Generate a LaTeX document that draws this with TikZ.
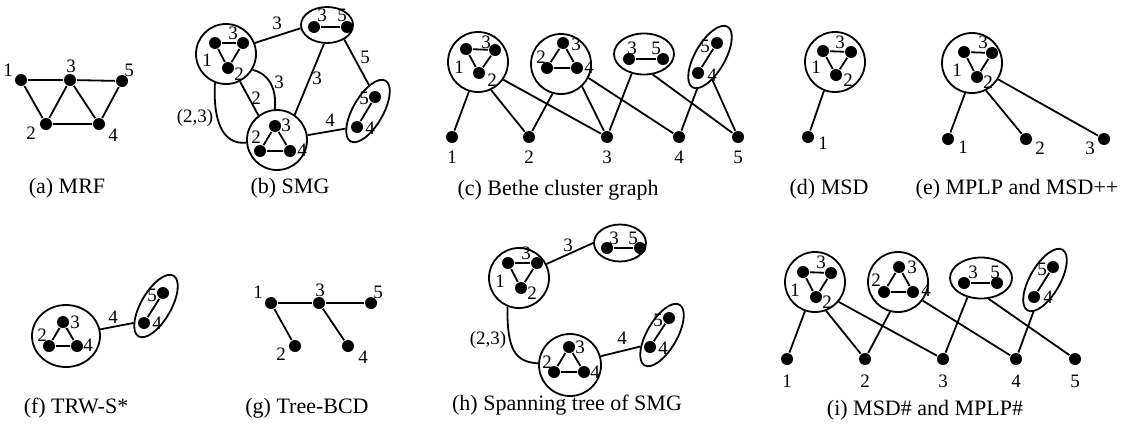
\documentclass[tikz,border=0pt]{standalone}
\usepackage{fontspec}
\setmainfont{Liberation Serif}
\usetikzlibrary{shapes.geometric}
\tikzset{vtx/.style={circle, fill=black, inner sep=0pt, minimum size=6pt},
  clus/.style={circle, draw, inner sep=0pt, minimum size=30pt},
  pair/.style={ellipse, draw, inner sep=0pt, minimum width=30pt, minimum height=20.5pt},
  tilt/.style={ellipse, draw, inner sep=0pt, minimum width=15pt, minimum height=35pt, rotate=-30},
  num/.style={inner sep=0pt, font=\fontsize{9.5}{10}\selectfont},
  capt/.style={inner sep=0pt, font=\fontsize{11}{12}\selectfont}}

\begin{document}
\begin{tikzpicture}[x=0.5pt, y=-0.5pt, line width=0.9pt]
  \useasboundingbox (0,0) rectangle (1127,428);
  % (a)
  \begin{scope}
   \node[vtx] (a1) at ( 21, 80) {};
   \node[vtx] (a3) at ( 70, 80) {};
   \node[vtx] (a5) at (122, 81) {};
   \node[vtx] (a2) at ( 46,124) {};
   \node[vtx] (a4) at ( 99,124) {};
   \draw (a1) -- (a3) -- (a5) -- (a4) -- (a2) -- (a1);
   \draw (a2) -- (a3) -- (a4);
   \node[num] (aL1) at (  8, 70) {1};
   \node[num] (aL3) at ( 71, 66) {3};
   \node[num] (aL5) at (129, 70) {5};
   \node[num] (aL2) at ( 31,133) {2};
   \node[num] (aL4) at (113,135) {4};
   \node[capt] (aC) at (67,188) {(a) MRF};
  \end{scope}
  % (b)
  \begin{scope}
   \node[clus] (bA) at (226, 54) {};
   \node[vtx] (bA1) at (215, 43) {};
   \node[vtx] (bA3) at (243, 43) {};
   \node[vtx] (bA2) at (228, 68) {};
   \draw (bA1) -- (bA3) -- (bA2) -- (bA1);
   \node[num] (bAL3) at (233, 33) {3};
   \node[num] (bAL1) at (207, 60) {1};
   \node[num] (bAL2) at (239, 74) {2};
   \node[pair, minimum width=26pt, minimum height=18pt] (bP) at (327, 25) {};
   \node[vtx] (bP3) at (314, 27) {};
   \node[vtx] (bP5) at (347, 27) {};
   \draw (bP3) -- (bP5);
   \node[num] (bPL3) at (322, 15) {3};
   \node[num] (bPL5) at (342, 15) {5};
   \node[tilt] (bQ) at (368,111) {};
   \node[vtx] (bQ5) at (375, 97) {};
   \node[vtx] (bQ4) at (357,127) {};
   \draw (bQ5) -- (bQ4);
   \node[num] (bQL5) at (364, 98) {5};
   \node[num] (bQL4) at (370,128) {4};
   \node[clus] (bB) at (277,140) {};
   \node[vtx] (bB3) at (275,126) {};
   \node[vtx] (bB2) at (260,151) {};
   \node[vtx] (bB4) at (290,151) {};
   \draw (bB3) -- (bB2) -- (bB4) -- (bB3);
   \node[num] (bBL3) at (286,125) {3};
   \node[num] (bBL2) at (256,137) {2};
   \node[num] (bBL4) at (302,150) {4};
   \draw (bA.21) -- (bP.187);
   \draw (bP.261) -- (bB.55);
   \draw (bP.320) -- (bQ.118);
   \draw (bB.9) -- (bQ.248);
   \draw (bA.297) -- (bB.127);
   \draw (bA.329) .. controls (268,73) and (277,88) .. (bB.94);
   \draw (bA.249) .. controls (213,120) and (222,145) .. (bB.185);
   \node[num] (bE1) at (277, 23) {3};
   \node[num] (bE2) at (317, 78) {3};
   \node[num] (bE3) at (365, 57) {5};
   \node[num] (bE4) at (330,120) {4};
   \node[num] (bE5) at (256, 98) {2};
   \node[num] (bE6) at (279, 82) {3};
   \node[num] (bE7) at (195,118) {(2,3)};
   \node[capt] (bC) at (290,188) {(b) SMG};
  \end{scope}
  % (c)
  \begin{scope}
   \node[clus] (cA) at (478, 62) {};
   \node[vtx] (cA1) at (466, 49) {};
   \node[vtx] (cA3) at (495, 50) {};
   \node[vtx] (cA2) at (479, 73) {};
   \draw (cA1) -- (cA3) -- (cA2) -- (cA1);
   \node[num] (cAL3) at (486, 42) {3};
   \node[num] (cAL1) at (459, 67) {1};
   \node[num] (cAL2) at (492, 80) {2};
   \node[clus] (cB) at (561, 64) {};
   \node[vtx] (cB3) at (563, 43) {};
   \node[vtx] (cB2) at (547, 68) {};
   \node[vtx] (cB4) at (577, 68) {};
   \draw (cB3) -- (cB2) -- (cB4) -- (cB3);
   \node[num] (cBL3) at (576, 44) {3};
   \node[num] (cBL2) at (541, 57) {2};
   \node[num] (cBL4) at (589, 67) {4};
   \node[pair] (cP) at (644, 54) {};
   \node[vtx] (cP3) at (629, 59) {};
   \node[vtx] (cP5) at (663, 59) {};
   \draw (cP3) -- (cP5);
   \node[num] (cPL3) at (632, 48) {3};
   \node[num] (cPL5) at (656, 48) {5};
   \node[tilt] (cQ) at (710, 57) {};
   \node[vtx] (cQ5) at (717, 43) {};
   \node[vtx] (cQ4) at (698, 73) {};
   \draw (cQ5) -- (cQ4);
   \node[num] (cQL5) at (705, 46) {5};
   \node[num] (cQL4) at (712, 75) {4};
   \node[vtx] (c1) at (452,137) {};
   \node[vtx] (c2) at (529,137) {};
   \node[vtx] (c3) at (607,137) {};
   \node[vtx] (c4) at (679,137) {};
   \node[vtx] (c5) at (738,137) {};
   \node[num] (cL1) at (452,157) {1};
   \node[num] (cL2) at (529,157) {2};
   \node[num] (cL3) at (607,157) {3};
   \node[num] (cL4) at (679,157) {4};
   \node[num] (cL5) at (738,157) {5};
   \draw (cA.253) -- (c1);
   \draw (cA.295) -- (c2);
   \draw (cA.325) -- (c3);
   \draw (cB.254) -- (c2);
   \draw (cB.313) -- (c3);
   \draw (cB.333) -- (c4);
   \draw (cP.238) -- (c3);
   \draw (cP.293) -- (c5);
   \draw (cQ.278) -- (c4);
   \draw (cQ.306) -- (c5);
   \node[capt] (cC) at (558,190) {(c) Bethe cluster graph};
  \end{scope}
  % (d)
  \begin{scope}
   \node[clus] (dA) at (835, 62) {};
   \node[vtx] (dA1) at (823, 51) {};
   \node[vtx] (dA3) at (851, 52) {};
   \node[vtx] (dA2) at (836, 75) {};
   \draw (dA1) -- (dA3) -- (dA2) -- (dA1);
   \node[num] (dAL3) at (840, 42) {3};
   \node[num] (dAL1) at (816, 67) {1};
   \node[num] (dAL2) at (848, 80) {2};
   \node[vtx] (d1) at (808,137) {};
   \node[num] (dL1) at (823,143) {1};
   \draw (dA.249) -- (d1);
   \node[capt] (dC) at (829,189) {(d) MSD};
  \end{scope}
  % (e)
  \begin{scope}
   \node[clus] (eA) at (972, 63) {};
   \node[vtx] (eA1) at (964, 52) {};
   \node[vtx] (eA3) at (992, 53) {};
   \node[vtx] (eA2) at (977, 77) {};
   \draw (eA1) -- (eA3) -- (eA2) -- (eA1);
   \node[num] (eAL3) at (983, 42) {3};
   \node[num] (eAL1) at (957, 70) {1};
   \node[num] (eAL2) at (988, 82) {2};
   \node[vtx] (e1) at ( 948,139) {};
   \node[vtx] (e2) at (1026,139) {};
   \node[vtx] (e3) at (1104,139) {};
   \node[num] (eL1) at ( 963,147) {1};
   \node[num] (eL2) at (1040,148) {2};
   \node[num] (eL3) at (1090,148) {3};
   \draw (eA.257) -- (e1);
   \draw (eA.297) -- (e2);
   \draw (eA.328) -- (e3);
   \node[capt] (eC) at (1017,189) {(e) MPLP and MSD++};
  \end{scope}
  % (f)
  \begin{scope}
   \node[pair, minimum width=34pt, minimum height=31pt] (fB) at (66,336) {};
   \node[vtx] (fB3) at (63,322) {};
   \node[vtx] (fB2) at (49,346) {};
   \node[vtx] (fB4) at (77,346) {};
   \draw (fB3) -- (fB2) -- (fB4) -- (fB3);
   \node[num] (fBL3) at (75,322) {3};
   \node[num] (fBL2) at (42,335) {2};
   \node[num] (fBL4) at (88,345) {4};
   \node[tilt] (fQ) at (156,306) {};
   \node[vtx] (fQ5) at (163,293) {};
   \node[vtx] (fQ4) at (144,323) {};
   \draw (fQ5) -- (fQ4);
   \node[num] (fQL5) at (152,295) {5};
   \node[num] (fQL4) at (157,323) {4};
   \draw (fB.11) -- (fQ.247);
   \node[num] (fE1) at (113,317) {4};
   \node[capt] (fC) at (76,408) {(f) TRW-S*};
  \end{scope}
  % (g)
  \begin{scope}
   \node[vtx] (g1) at (271,303) {};
   \node[vtx] (g3) at (319,303) {};
   \node[vtx] (g5) at (371,303) {};
   \node[vtx] (g2) at (295,346) {};
   \node[vtx] (g4) at (348,346) {};
   \draw (g1) -- (g3) -- (g5);
   \draw (g1) -- (g2);
   \draw (g3) -- (g4);
   \node[num] (gL1) at (258,292) {1};
   \node[num] (gL3) at (320,290) {3};
   \node[num] (gL5) at (378,292) {5};
   \node[num] (gL2) at (281,354) {2};
   \node[num] (gL4) at (363,357) {4};
   \node[capt] (gC) at (307,408) {(g) Tree-BCD};
  \end{scope}
  % (h)
  \begin{scope}
   \node[clus] (hA) at (519,278) {};
   \node[vtx] (hA1) at (508,263) {};
   \node[vtx] (hA3) at (537,263) {};
   \node[vtx] (hA2) at (521,288) {};
   \draw (hA1) -- (hA3) -- (hA2) -- (hA1);
   \node[num] (hAL3) at (526,253) {3};
   \node[num] (hAL1) at (500,281) {1};
   \node[num] (hAL2) at (532,293) {2};
   \node[pair, minimum width=26pt, minimum height=18.5pt] (hP) at (620,243) {};
   \node[vtx] (hP3) at (607,248) {};
   \node[vtx] (hP5) at (640,248) {};
   \draw (hP3) -- (hP5);
   \node[num] (hPL3) at (614,238) {3};
   \node[num] (hPL5) at (633,238) {5};
   \node[tilt] (hQ) at (662,335) {};
   \node[vtx] (hQ5) at (669,318) {};
   \node[vtx] (hQ4) at (650,347) {};
   \draw (hQ5) -- (hQ4);
   \node[num] (hQL5) at (658,320) {5};
   \node[num] (hQL4) at (663,348) {4};
   \node[clus, minimum size=31pt] (hB) at (570,365) {};
   \node[vtx] (hB3) at (569,347) {};
   \node[vtx] (hB2) at (554,372) {};
   \node[vtx] (hB4) at (584,372) {};
   \draw (hB3) -- (hB2) -- (hB4) -- (hB3);
   \node[num] (hBL3) at (580,347) {3};
   \node[num] (hBL2) at (547,362) {2};
   \node[num] (hBL4) at (595,372) {4};
   \draw (hA.27) -- (hP.180);
   \draw (hA.248) .. controls (507,350) and (515,362) .. (hB.177);
   \draw (hB.16) -- (hQ.238);
   \node[num] (hE1) at (568,245) {3};
   \node[num] (hE2) at (488,340) {(2,3)};
   \node[num] (hE3) at (622,338) {4};
   \node[capt] (hC) at (567,405) {(h) Spanning tree of SMG};
  \end{scope}
  % (i)
  \begin{scope}
   \node[clus] (iA) at (815,282) {};
   \node[vtx] (iA1) at (803,272) {};
   \node[vtx] (iA3) at (831,273) {};
   \node[vtx] (iA2) at (816,297) {};
   \draw (iA1) -- (iA3) -- (iA2) -- (iA1);
   \node[num] (iAL3) at (821,262) {3};
   \node[num] (iAL1) at (795,290) {1};
   \node[num] (iAL2) at (827,302) {2};
   \node[clus] (iB) at (898,282) {};
   \node[vtx] (iB3) at (899,267) {};
   \node[vtx] (iB2) at (884,292) {};
   \node[vtx] (iB4) at (913,292) {};
   \draw (iB3) -- (iB2) -- (iB4) -- (iB3);
   \node[num] (iBL3) at (912,267) {3};
   \node[num] (iBL2) at (876,280) {2};
   \node[num] (iBL4) at (926,290) {4};
   \node[pair, minimum width=31pt] (iP) at (981,278) {};
   \node[vtx] (iP3) at (964,283) {};
   \node[vtx] (iP5) at (997,283) {};
   \draw (iP3) -- (iP5);
   \node[num] (iPL3) at (973,272) {3};
   \node[num] (iPL5) at (995,272) {5};
   \node[tilt] (iQ) at (1045,280) {};
   \node[vtx] (iQ5) at (1053,267) {};
   \node[vtx] (iQ4) at (1034,297) {};
   \draw (iQ5) -- (iQ4);
   \node[num] (iQL5) at (1042,269) {5};
   \node[num] (iQL4) at (1048,297) {4};
   \node[vtx] (i1) at ( 787,359) {};
   \node[vtx] (i2) at ( 865,359) {};
   \node[vtx] (i3) at ( 943,359) {};
   \node[vtx] (i4) at (1016,359) {};
   \node[vtx] (i5) at (1075,359) {};
   \node[num] (iL1) at ( 787,381) {1};
   \node[num] (iL2) at ( 865,381) {2};
   \node[num] (iL3) at ( 943,381) {3};
   \node[num] (iL4) at (1016,381) {4};
   \node[num] (iL5) at (1075,381) {5};
   \draw (iA.251) -- (i1);
   \draw (iA.291) -- (i2);
   \draw (iA.320) -- (i3);
   \draw (iB.255) -- (i2);
   \draw (iB.323) -- (i4);
   \draw (iP.235) -- (i3);
   \draw (iP.290) -- (i5);
   \draw (iQ.280) -- (i4);
   \node[capt] (iC) at (925,410) {(i) MSD\# and MPLP\#};
  \end{scope}
\end{tikzpicture}
\end{document}
